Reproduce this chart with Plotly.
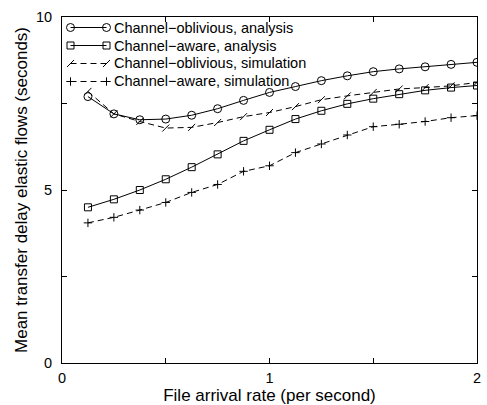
import plotly.graph_objects as go

x = [0.125, 0.25, 0.375, 0.5, 0.625, 0.75, 0.875, 1.0, 1.125, 1.25, 1.375, 1.5, 1.625, 1.75, 1.875, 2.0]
obl_analysis = [7.70, 7.20, 7.03, 7.05, 7.16, 7.35, 7.59, 7.82, 7.99, 8.16, 8.30, 8.42, 8.50, 8.56, 8.63, 8.69]
aware_analysis = [4.50, 4.73, 5.00, 5.31, 5.66, 6.03, 6.42, 6.74, 7.05, 7.29, 7.49, 7.64, 7.77, 7.88, 7.96, 8.02]
obl_sim = [7.85, 7.20, 6.98, 6.79, 6.81, 6.95, 7.12, 7.24, 7.41, 7.61, 7.72, 7.82, 7.92, 7.96, 8.01, 8.11]
aware_sim = [4.05, 4.21, 4.42, 4.64, 4.93, 5.16, 5.54, 5.70, 6.08, 6.33, 6.59, 6.83, 6.90, 6.98, 7.09, 7.15]

names = ["Channel\u2212oblivious, analysis", "Channel\u2212aware, analysis",
         "Channel\u2212oblivious, simulation", "Channel\u2212aware, simulation"]

# plot-area geometry (pixels) used to place the gnuplot-style key
W, H = 487, 405
ML, MR, MT, MB = 62, 10, 17, 42
PW, PH = W - ML - MR, H - MT - MB


def fx(px):
    return (px - ML) / PW


def fy(py):
    return (H - MB - py) / PH


styles = [
    dict(line=dict(color="black", width=1),
         marker=dict(symbol="circle-open", size=8, color="black", line=dict(width=1))),
    dict(line=dict(color="black", width=1),
         marker=dict(symbol="square-open", size=7, color="black", line=dict(width=1))),
    dict(line=dict(color="black", width=1, dash="6px,4px"),
         marker=dict(symbol="line-ne", size=7, color="black", line=dict(width=1, color="black"))),
    dict(line=dict(color="black", width=1, dash="6px,4px"),
         marker=dict(symbol="cross-thin", size=6, color="black", line=dict(width=1, color="black"))),
]
series = [obl_analysis, aware_analysis, obl_sim, aware_sim]

fig = go.Figure()
for nm, ys, st in zip(names, series, styles):
    fig.add_trace(go.Scatter(x=x, y=ys, name=nm, mode="lines+markers", showlegend=False, **st))

# key (legend) drawn gnuplot-style: sample line with a marker at each end
key_rows = [27.5, 45.5, 63.5, 81.5]
key_x0, key_x1, key_text_x = 70.5, 106.5, 112
font = dict(family="Liberation Sans, Arial, sans-serif", size=14.5, color="black")
annotations = []
for nm, st, ry in zip(names, styles, key_rows):
    fig.add_trace(go.Scatter(x=[fx(key_x0), fx(key_x1)], y=[fy(ry), fy(ry)], mode="lines+markers",
                             xaxis="x2", yaxis="y2", showlegend=False, hoverinfo="skip", **st))
    annotations.append(dict(x=fx(key_text_x), y=fy(ry), xref="paper", yref="paper", text=nm,
                            showarrow=False, xanchor="left", yanchor="middle", font=font))

fig.update_layout(
    width=W, height=H,
    margin=dict(l=ML, r=MR, t=MT, b=MB, autoexpand=False),
    paper_bgcolor="white", plot_bgcolor="white",
    font=font,
    showlegend=False,
    annotations=annotations,
    xaxis2=dict(overlaying="x", range=[0, 1], visible=False),
    yaxis2=dict(overlaying="y", range=[0, 1], visible=False),
)
fig.update_xaxes(selector=dict(anchor="y"))
fig.update_layout(
    xaxis=dict(range=[0, 2], tickvals=[0, 0.5, 1, 1.5, 2], ticktext=["0", "", "1", "", "2"],
               ticks="inside", ticklen=5, tickcolor="black", showline=True, linecolor="black",
               linewidth=1, mirror="ticks", showgrid=False, zeroline=False, ticklabelstandoff=2,
               automargin=False,
               title=dict(text="File arrival rate (per second)", standoff=4)),
    yaxis=dict(range=[0, 10], tickvals=[0, 2.5, 5, 7.5, 10], ticktext=["0", "", "5", "", "10"],
               ticks="inside", ticklen=5, tickcolor="black", showline=True, linecolor="black",
               linewidth=1, mirror="ticks", showgrid=False, zeroline=False, ticklabelstandoff=6,
               automargin=False,
               title=dict(text="Mean transfer delay elastic flows (seconds)", standoff=4)),
)

fig.write_html("out.html")
